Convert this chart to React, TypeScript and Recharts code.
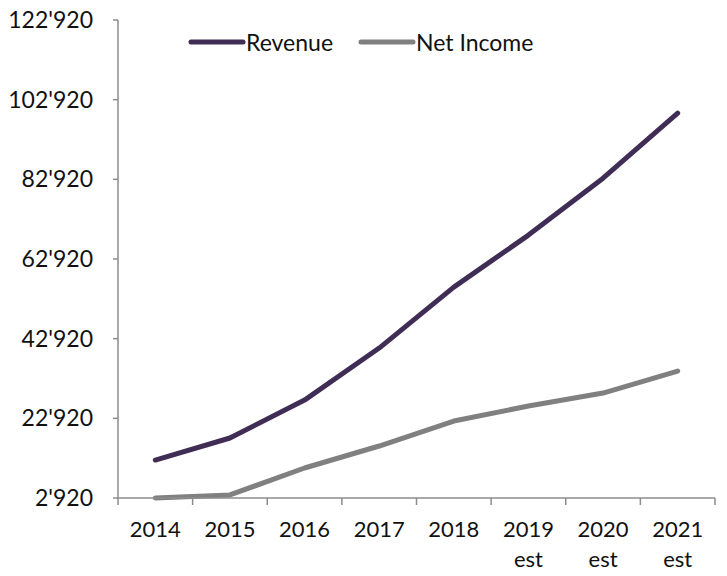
import React from "react";
import { LineChart, Line, XAxis, YAxis } from "recharts";

const categories = ["2014", "2015", "2016", "2017", "2018", "2019\nest", "2020\nest", "2021\nest"];
const revenue = [12450, 17980, 27500, 40560, 55870, 68920, 83220, 99530];
const netIncome = [2920, 3700, 10450, 15970, 22240, 26010, 29270, 34790];
const yTicks = [2920, 22920, 42920, 62920, 82920, 102920, 122920];

const REV_COLOR = "#3F2D55";
const NI_COLOR = "#808080";
const AXIS_COLOR = "#8C8C8C";
const FONT = "Lato, 'Open Sans', sans-serif";

const data = categories.map((c, i) => ({
  x: i + 0.5,
  revenue: revenue[i],
  netIncome: netIncome[i],
}));

const fmt = (v: number) => `${Math.floor(v / 1000)}'${String(v % 1000).padStart(3, "0")}`;

const CategoryTick = (props: any) => {
  const { x, y, payload } = props;
  const idx = Math.round(payload.value - 0.5);
  const lines = (categories[idx] || "").split("\n");
  return (
    <text x={x} y={y} textAnchor="middle" fill="#111" fontSize={22} fontFamily={FONT}>
      {lines.map((l, k) => (
        <tspan key={k} x={x} dy={k === 0 ? 23 : 30}>
          {l}
        </tspan>
      ))}
    </text>
  );
};

const EmptyTick = () => <g />;

const legendItems = [
  { label: "Revenue", color: REV_COLOR },
  { label: "Net Income", color: NI_COLOR },
];

export default function App() {
  return (
    <div style={{ position: "absolute", left: 0, top: 0, width: 727, height: 576, background: "#fff" }}>
      <LineChart width={727} height={576} data={data} margin={{ top: 20, right: 12, bottom: 8, left: 0 }}>
        <XAxis
          xAxisId="bounds"
          type="number"
          dataKey="x"
          domain={[0, 8]}
          ticks={[0, 1, 2, 3, 4, 5, 6, 7, 8]}
          tick={<EmptyTick />}
          tickSize={7}
          height={8}
          stroke={AXIS_COLOR}
          strokeWidth={1.5}
          interval={0}
        />
        <XAxis
          xAxisId="labels"
          type="number"
          dataKey="x"
          domain={[0, 8]}
          ticks={[0.5, 1.5, 2.5, 3.5, 4.5, 5.5, 6.5, 7.5]}
          axisLine={false}
          tickLine={false}
          tick={<CategoryTick />}
          height={62}
          interval={0}
        />
        <YAxis
          type="number"
          domain={[2920, 122920]}
          ticks={yTicks}
          tickFormatter={fmt}
          width={118}
          tickSize={5}
          tickMargin={20}
          stroke={AXIS_COLOR}
          strokeWidth={1.5}
          tick={{ fill: "#111", fontSize: 23, fontFamily: FONT }}
          interval={0}
        />
        <Line
          xAxisId="bounds"
          type="linear"
          dataKey="revenue"
          name="Revenue"
          stroke={REV_COLOR}
          strokeWidth={5}
          strokeLinecap="round"
          strokeLinejoin="round"
          dot={false}
          isAnimationActive={false}
        />
        <Line
          xAxisId="bounds"
          type="linear"
          dataKey="netIncome"
          name="Net Income"
          stroke={NI_COLOR}
          strokeWidth={5}
          strokeLinecap="round"
          strokeLinejoin="round"
          dot={false}
          isAnimationActive={false}
        />
      </LineChart>
      <div
        style={{
          position: "absolute",
          top: 28,
          left: 188,
          display: "flex",
          alignItems: "center",
          fontFamily: FONT,
          fontSize: 23,
          color: "#111",
        }}
      >
        {legendItems.map((it, i) => (
          <div key={it.label} style={{ display: "flex", alignItems: "center", marginLeft: i === 0 ? 0 : 25 }}>
            <svg width={58} height={10}>
              <line x1={3} y1={5} x2={55} y2={5} stroke={it.color} strokeWidth={5} strokeLinecap="round" />
            </svg>
            <span>{it.label}</span>
          </div>
        ))}
      </div>
    </div>
  );
}
